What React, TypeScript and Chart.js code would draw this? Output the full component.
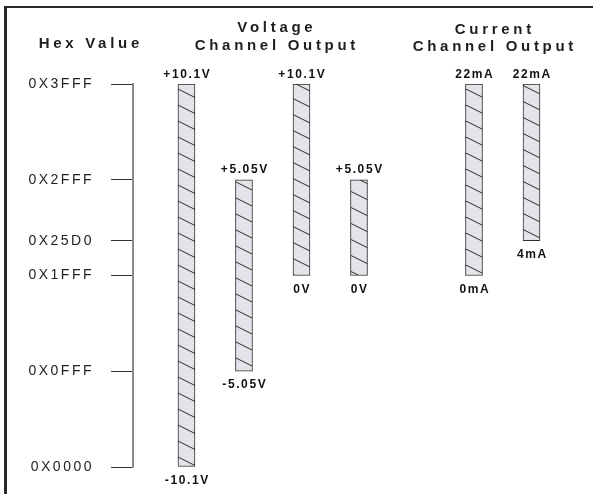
import { useEffect, useRef } from 'react';
import { Chart, registerables } from 'chart.js';

Chart.register(...registerables);

// ---- data ----
const categories = ['±10.1V', '±5.05V', '0–10.1V', '0–5.05V', '0–22mA', '4–22mA'];
const groups = ['Voltage', 'Voltage', 'Voltage', 'Voltage', 'Current', 'Current'];
const lowHex = [0x0000, 0x0fff, 0x1fff, 0x1fff, 0x1fff, 0x25d0];
const highHex = [0x3fff, 0x2fff, 0x3fff, 0x2fff, 0x3fff, 0x3fff];
const topLabels = ['+10.1V', '+5.05V', '+10.1V', '+5.05V', '22mA', '22mA'];
const bottomLabels = ['-10.1V', '-5.05V', '0V', '0V', '0mA', '4mA'];
const hexTicks = [0x0000, 0x0fff, 0x1fff, 0x25d0, 0x2fff, 0x3fff];
const headingHex = ['Hex Value'];
const headingVoltage = ['Voltage', 'Channel Output'];
const headingCurrent = ['Current', 'Channel Output'];

const FONT = "'Liberation Sans', Arial, Helvetica, sans-serif";

const fmtHex = (v: number) => '0X' + v.toString(16).toUpperCase().padStart(4, '0');

function makeHatch(): CanvasPattern | string {
  const c = document.createElement('canvas');
  c.width = 32;
  c.height = 16;
  const g = c.getContext('2d');
  if (!g) return '#e3e3ea';
  g.fillStyle = '#e3e3ea';
  g.fillRect(0, 0, 32, 16);
  g.strokeStyle = '#2b2b2b';
  g.lineWidth = 1;
  for (const dy of [-16, 0, 16]) {
    g.beginPath();
    g.moveTo(0, dy);
    g.lineTo(32, dy + 16);
    g.stroke();
  }
  return g.createPattern(c, 'repeat') || '#e3e3ea';
}

function spacedText(
  ctx: CanvasRenderingContext2D,
  text: string,
  x: number,
  y: number,
  font: string,
  spacing: number,
  color: string
) {
  ctx.save();
  ctx.font = font;
  (ctx as any).letterSpacing = spacing + 'px';
  ctx.fillStyle = color;
  ctx.textAlign = 'center';
  ctx.textBaseline = 'alphabetic';
  ctx.fillText(text, x + spacing / 2, y);
  ctx.restore();
}

const decorPlugin = {
  id: 'decor',
  beforeDraw(chart: any) {
    const ctx = chart.ctx as CanvasRenderingContext2D;
    (ctx as any).letterSpacing = '2.5px';
  },
  afterDraw(chart: any) {
    const ctx = chart.ctx as CanvasRenderingContext2D;
    (ctx as any).letterSpacing = '0px';
    // frame (top and left edges)
    ctx.save();
    ctx.strokeStyle = '#2a2a2a';
    ctx.lineWidth = 2;
    ctx.beginPath();
    ctx.moveTo(4, 7);
    ctx.lineTo(chart.width, 7);
    ctx.stroke();
    ctx.lineWidth = 3;
    ctx.beginPath();
    ctx.moveTo(5.5, 6);
    ctx.lineTo(5.5, chart.height);
    ctx.stroke();
    ctx.restore();

    const hFont = `bold 15px ${FONT}`;
    const sp = 3.7;
    spacedText(ctx, headingHex[0], 89, 48, hFont, sp, '#1e1e1e');
    spacedText(ctx, headingVoltage[0], 275, 32, hFont, sp, '#1e1e1e');
    spacedText(ctx, headingVoltage[1], 275, 50, hFont, sp, '#1e1e1e');
    spacedText(ctx, headingCurrent[0], 493, 34, hFont, sp, '#1e1e1e');
    spacedText(ctx, headingCurrent[1], 493, 51, hFont, sp, '#1e1e1e');

    // bar end labels
    const meta = chart.getDatasetMeta(0);
    const lFont = `bold 12px ${FONT}`;
    meta.data.forEach((bar: any, i: number) => {
      const top = Math.min(bar.y, bar.base);
      const bottom = Math.max(bar.y, bar.base);
      spacedText(ctx, topLabels[i], bar.x, top - 6.5, lFont, 1.6, '#111');
      spacedText(ctx, bottomLabels[i], bar.x, bottom + 17, lFont, 1.6, '#111');
    });
  },
};

export default function App() {
  const ref = useRef<HTMLCanvasElement>(null);

  useEffect(() => {
    if (!ref.current) return;
    const points = categories.map((_, i) => ({
      x: i + (groups[i] === 'Current' ? 1 : 0),
      y: [lowHex[i], highHex[i]],
    }));
    const chart = new Chart(ref.current, {
      type: 'bar',
      data: {
        datasets: [
          {
            label: 'Output range',
            data: points as any,
            backgroundColor: makeHatch() as any,
            borderColor: '#2e2e2e',
            borderWidth: 1,
            borderSkipped: false,
            barThickness: 17,
          },
        ],
      },
      options: {
        animation: false,
        responsive: true,
        maintainAspectRatio: false,
        layout: { padding: { top: 84, bottom: 27, left: 0, right: 4 } },
        plugins: {
          legend: { display: false },
          tooltip: { enabled: false },
          title: { display: false },
        },
        scales: {
          x: {
            type: 'linear',
            min: -0.93,
            max: 7,
            offset: false,
            display: false,
          },
          y: {
            type: 'linear',
            min: 0,
            max: 0x3fff,
            afterBuildTicks: (scale: any) => {
              scale.ticks = hexTicks.map((v) => ({ value: v }));
            },
            afterFit: (scale: any) => {
              scale.width = 133;
            },
            ticks: {
              callback: (v: any) => fmtHex(Number(v)),
              padding: 17,
              color: '#222',
              font: { family: FONT, size: 14 },
            },
            grid: {
              drawOnChartArea: false,
              drawTicks: true,
              tickLength: 22,
              tickColor: '#333',
              tickWidth: 1,
            },
            border: { display: true, color: '#8a8a8a', width: 2 },
          },
        },
      },
      plugins: [decorPlugin],
    });
    return () => chart.destroy();
  }, []);

  return (
    <div
      style={{
        position: 'fixed',
        left: 0,
        top: 0,
        width: 593,
        height: 494,
        background: '#fff',
      }}
    >
      <canvas ref={ref} />
    </div>
  );
}
